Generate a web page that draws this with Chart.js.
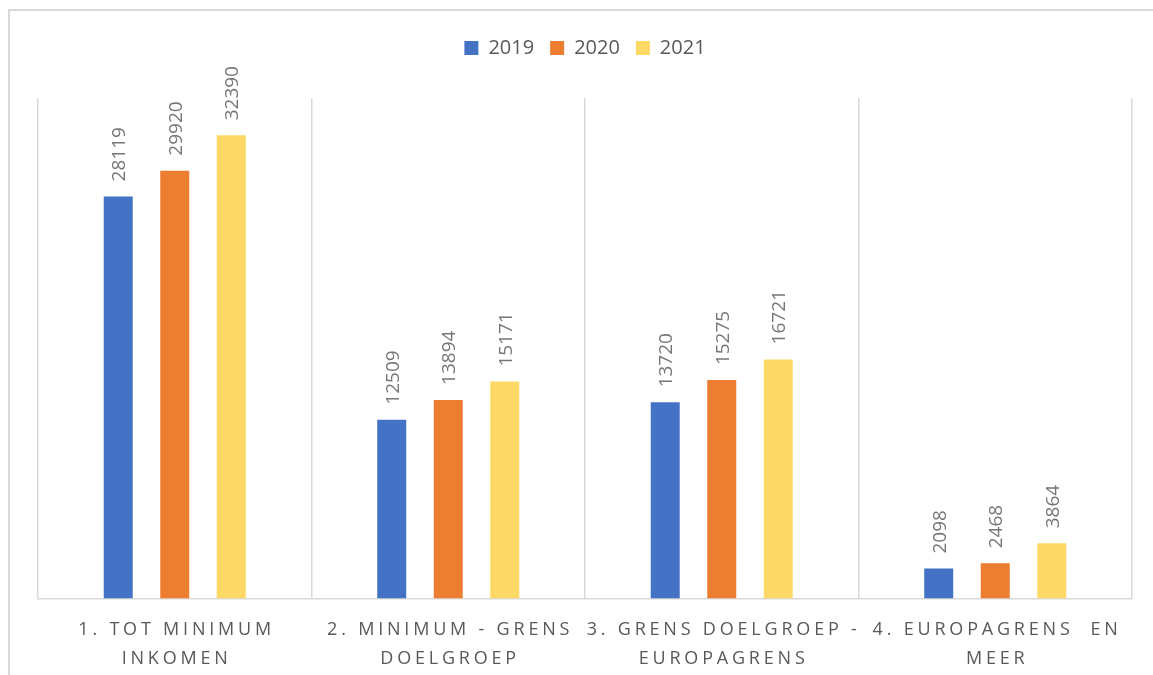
<!DOCTYPE html>
<html>
<head>
<meta charset="utf-8">
<script src="https://cdn.jsdelivr.net/npm/chart.js@4.4.1/dist/chart.umd.min.js"></script>
<style>
  html, body { margin: 0; padding: 0; background: #ffffff; overflow: hidden; }
  #frame { position: absolute; left: 8px; top: 9px; width: 1200px; height: 720px; border: 2px solid #d9d9d9; box-sizing: border-box; }
  #wrap { position: absolute; left: 0; top: 0; width: 1153px; height: 675px; }
</style>
</head>
<body>
<div id="frame"></div>
<div id="wrap"><canvas id="c" width="1153" height="675"></canvas></div>
<script>
const categories = [
  ['1. TOT MINIMUM', 'INKOMEN'],
  ['2. MINIMUM - GRENS', 'DOELGROEP'],
  ['3. GRENS DOELGROEP -', 'EUROPAGRENS'],
  ['4. EUROPAGRENS  EN', 'MEER']
];
const seriesNames = ['2019', '2020', '2021'];
const values2019 = [28119, 12509, 13720, 2098];
const values2020 = [29920, 13894, 15275, 2468];
const values2021 = [32390, 15171, 16721, 3864];
const seriesColors = ['#4472C4', '#ED7D31', '#FFD966'];
const yMax = 35000;

const FONT = '"Open Sans", "Liberation Sans", sans-serif';
const LETTER_SPACING = 3.8;

class SpacedCategoryScale extends Chart.CategoryScale {
  drawLabels(chartArea) {
    const ctx = this.ctx;
    ctx.save();
    ctx.letterSpacing = LETTER_SPACING + 'px';
    ctx.translate(LETTER_SPACING / 2, 0);
    super.drawLabels(chartArea);
    ctx.restore();
  }
}
SpacedCategoryScale.id = 'spacedCategory';
SpacedCategoryScale.defaults = Chart.CategoryScale.defaults;
Chart.register(SpacedCategoryScale);

const barLabels = {
  id: 'barLabels',
  afterDatasetsDraw(chart) {
    const ctx = chart.ctx;
    const size = 19;
    chart.data.datasets.forEach((ds, i) => {
      const meta = chart.getDatasetMeta(i);
      meta.data.forEach((bar, j) => {
        ctx.save();
        ctx.translate(bar.x, bar.y - 15);
        ctx.rotate(-Math.PI / 2);
        ctx.font = size + 'px ' + FONT;
        ctx.fillStyle = '#767676';
        ctx.textAlign = 'left';
        ctx.textBaseline = 'alphabetic';
        ctx.fillText(String(ds.data[j]), 0, size * 0.36);
        ctx.restore();
      });
    });
  }
};

const legendGap = {
  id: 'legendGap',
  beforeInit(chart) {
    const lg = chart.legend;
    const origFit = lg.fit;
    lg.fit = function () {
      origFit.call(this);
      this.height += 30;
    };
  }
};

const datasets = [values2019, values2020, values2021].map((vals, i) => ({
  label: seriesNames[i],
  data: vals,
  backgroundColor: seriesColors[i],
  borderWidth: 0,
  categoryPercentage: 0.62,
  barPercentage: 0.513
}));

new Chart(document.getElementById('c'), {
  type: 'bar',
  data: { labels: categories, datasets },
  plugins: [legendGap, barLabels],
  options: {
    responsive: false,
    animation: false,
    layout: { padding: { left: 38, right: 21, top: 22, bottom: -15 } },
    plugins: {
      legend: {
        position: 'top',
        align: 'center',
        labels: {
          boxWidth: 14,
          boxHeight: 14,
          padding: 16,
          color: '#595959',
          font: { family: FONT, size: 20 }
        }
      },
      tooltip: { enabled: false },
      title: { display: false }
    },
    scales: {
      x: {
        type: 'spacedCategory',
        offset: true,
        grid: { offset: true, color: '#d9d9d9', lineWidth: 1.5, drawTicks: false },
        border: { display: true, color: '#d9d9d9', width: 1.5 },
        ticks: {
          color: '#595959',
          font: { family: FONT, size: 18, lineHeight: 1.65 },
          padding: 16,
          maxRotation: 0,
          minRotation: 0,
          autoSkip: false
        }
      },
      y: {
        display: false,
        min: 0,
        max: yMax
      }
    }
  }
});
</script>
</body>
</html>
